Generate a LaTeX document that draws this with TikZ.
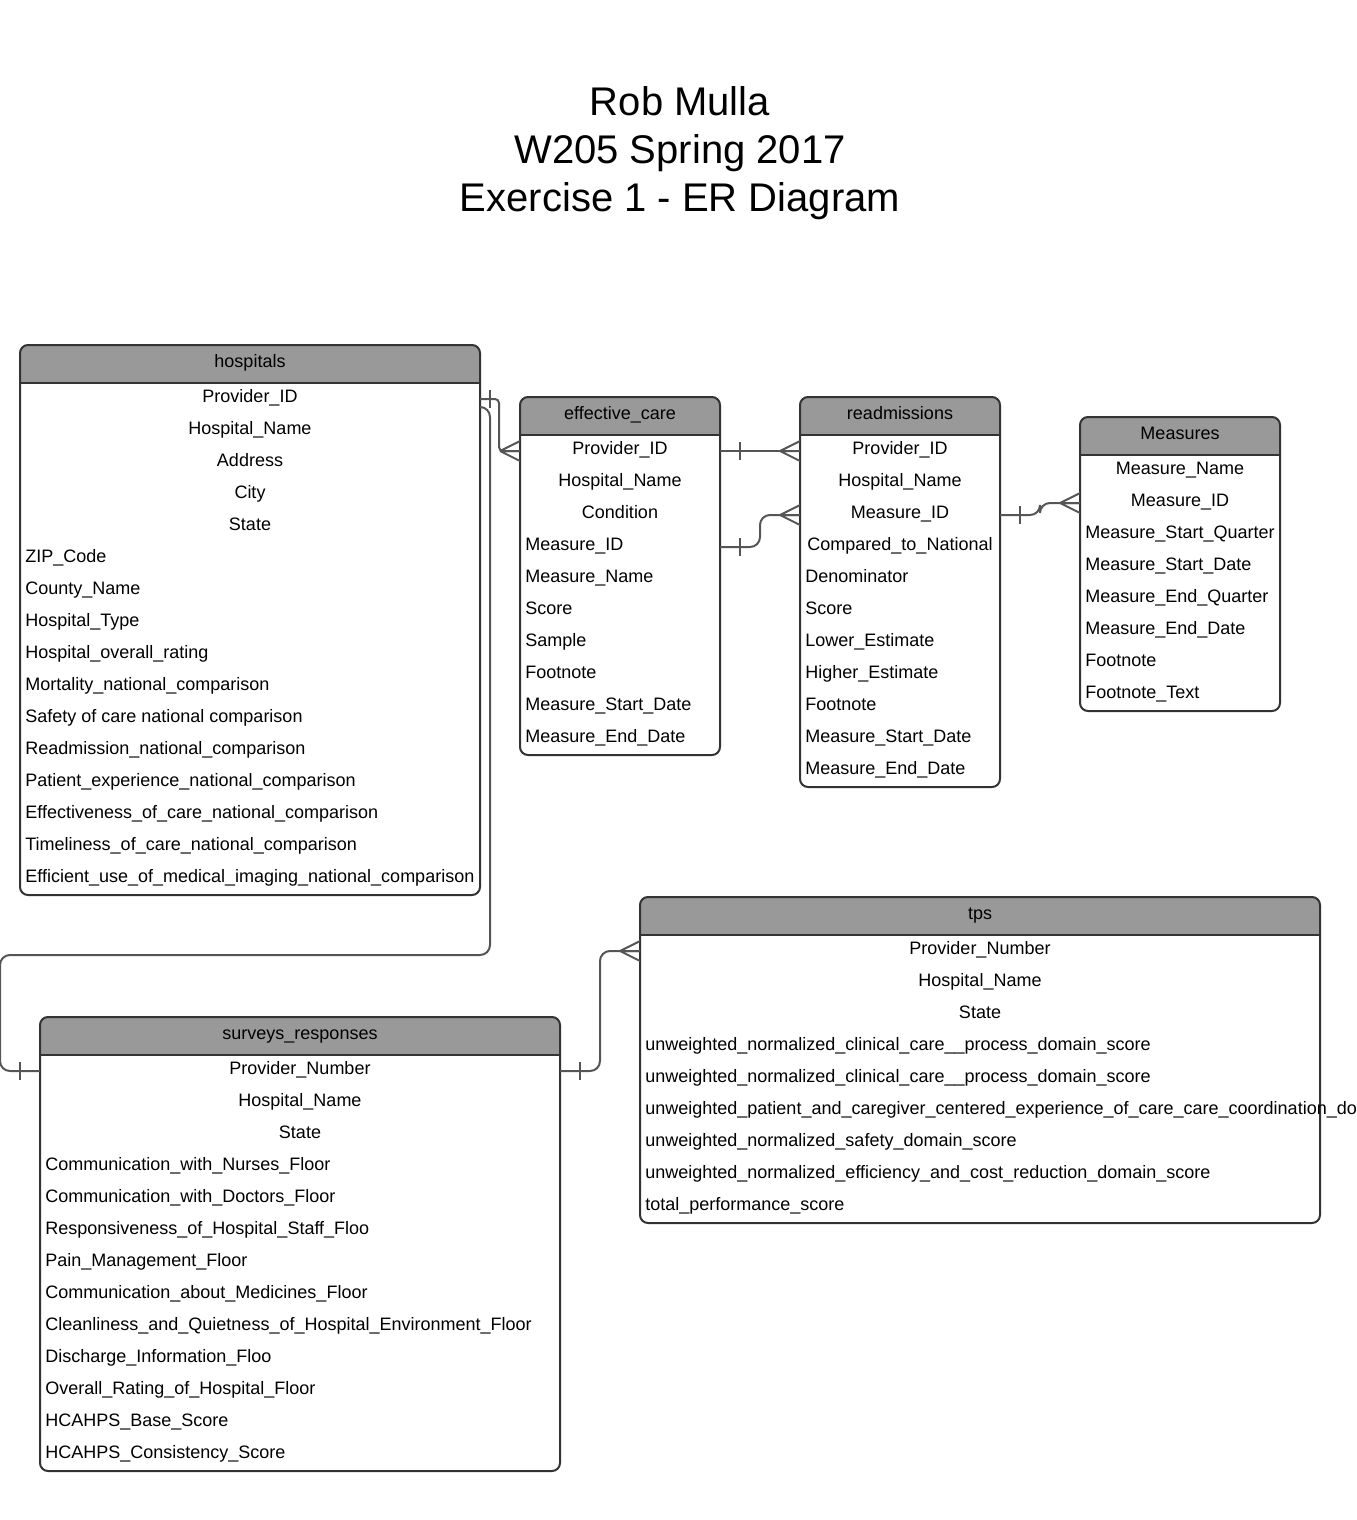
\documentclass[tikz,border=0pt]{standalone}
\usepackage{fontspec}
\setmainfont{Liberation Sans}
\usetikzlibrary{calc}
\definecolor{headgray}{HTML}{999999}
\definecolor{boxline}{HTML}{333333}
\definecolor{linkline}{HTML}{555555}

% #1 name, #2 left, #3 top, #4 width, #5 title, #6 centred rows, #7 rows, #8 fields
\newcommand{\ertable}[8]{%
  \pgfmathsetmacro\tbot{#3+38+32*#7}
  \fill[headgray] (#2,#3+38) [rounded corners=4] |- (#2+#4,#3) [sharp corners] -- (#2+#4,#3+38) -- cycle;
  \draw[boxline, line width=1pt] (#2,#3+38) -- (#2+#4,#3+38);
  \draw[tablebox] (#2,#3) rectangle (#2+#4,\tbot);
  \node[headtext] (#1) at (#2+#4/2,#3+22) {#5};
  \foreach \f [count=\i] in {#8} {
    \pgfmathsetmacro\rowc{#3+38+16+32*(\i-1)}
    \coordinate (#1-\i-w) at (#2,\rowc);
    \coordinate (#1-\i-e) at (#2+#4,\rowc);
    \ifnum\i>#6
      \node[fieldtext, anchor=base west] (#1-\i) at (#2+5,\rowc+3.5) {\f};
    \else
      \node[fieldtext, anchor=base] (#1-\i) at (#2+#4/2,\rowc+3.5) {\f};
    \fi
  }
}

\begin{document}
\begin{tikzpicture}[
    x=0.5pt, y=-0.5pt,
    tablebox/.style={draw=boxline, line width=1pt, rounded corners=4},
    headtext/.style={anchor=base, inner sep=0pt, font=\fontsize{9}{11}\selectfont},
    fieldtext/.style={inner sep=0pt, font=\fontsize{9}{11}\selectfont},
    link/.style={draw=linkline, line width=1pt, rounded corners=5},
    crowfoot/.pic={\draw[link, rounded corners=0] (-20,0) -- (0,-10) (-20,0) -- (0,10) (-20,0) -- (0,0);},
    onebar/.pic={\draw[link, rounded corners=0] (0,-9) -- (0,9);}
  ]
  \useasboundingbox (0,0) rectangle (1356,1520);

  \node[align=center, font=\fontsize{20}{24}\selectfont] (title) at (680,153)
    {Rob Mulla\\W205 Spring 2017\\Exercise 1 - ER Diagram};

  \ertable{hospitals}{20}{345}{460}{hospitals}{5}{16}{Provider\_ID,Hospital\_Name,Address,City,State,
    ZIP\_Code,County\_Name,Hospital\_Type,Hospital\_overall\_rating,Mortality\_national\_comparison,
    Safety of care national comparison,Readmission\_national\_comparison,Patient\_experience\_national\_comparison,
    Effectiveness\_of\_care\_national\_comparison,Timeliness\_of\_care\_national\_comparison,
    Efficient\_use\_of\_medical\_imaging\_national\_comparison}

  \ertable{care}{520}{397}{200}{effective\_care}{3}{10}{Provider\_ID,Hospital\_Name,Condition,
    Measure\_ID,Measure\_Name,Score,Sample,Footnote,Measure\_Start\_Date,Measure\_End\_Date}

  \ertable{readm}{800}{397}{200}{readmissions}{4}{11}{Provider\_ID,Hospital\_Name,Measure\_ID,
    Compared\_to\_National,Denominator,Score,Lower\_Estimate,Higher\_Estimate,Footnote,
    Measure\_Start\_Date,Measure\_End\_Date}

  \ertable{measures}{1080}{417}{200}{Measures}{3}{8}{Measure\_Name,Measure\_ID,Measure\_Start\_Quarter,
    Measure\_Start\_Date,Measure\_End\_Quarter,Measure\_End\_Date,Footnote,Footnote\_Text}

  \ertable{tps}{640}{897}{680}{tps}{3}{9}{Provider\_Number,Hospital\_Name,State,
    unweighted\_normalized\_clinical\_care\_\_process\_domain\_score,
    unweighted\_normalized\_clinical\_care\_\_process\_domain\_score,
    unweighted\_patient\_and\_caregiver\_centered\_experience\_of\_care\_care\_coordination\_do,
    unweighted\_normalized\_safety\_domain\_score,
    unweighted\_normalized\_efficiency\_and\_cost\_reduction\_domain\_score,
    total\_performance\_score}

  \ertable{surveys}{40}{1017}{520}{surveys\_responses}{3}{13}{Provider\_Number,Hospital\_Name,State,
    Communication\_with\_Nurses\_Floor,Communication\_with\_Doctors\_Floor,
    Responsiveness\_of\_Hospital\_Staff\_Floo,Pain\_Management\_Floor,
    Communication\_about\_Medicines\_Floor,Cleanliness\_and\_Quietness\_of\_Hospital\_Environment\_Floor,
    Discharge\_Information\_Floo,Overall\_Rating\_of\_Hospital\_Floor,HCAHPS\_Base\_Score,
    HCAHPS\_Consistency\_Score}

  % relationships
  \draw[link, rounded corners=2] (hospitals-1-e) -- ++(19,0) |- (care-1-w);
  \pic at ($(hospitals-1-e)+(10,0)$) {onebar};
  \pic at (care-1-w) {crowfoot};

  \draw[link] (care-1-e) -- (readm-1-w);
  \pic at ($(care-1-e)+(20,0)$) {onebar};
  \pic at (readm-1-w) {crowfoot};

  \draw[link] (care-4-e) -- ++(40,0) |- (readm-3-w);
  \pic at ($(care-4-e)+(20,0)$) {onebar};
  \pic at (readm-3-w) {crowfoot};

  \draw[link] (readm-3-e) -- ++(40,0) |- (measures-2-w);
  \pic at ($(readm-3-e)+(20,0)$) {onebar};
  \pic at (measures-2-w) {crowfoot};

  \coordinate (drop) at (490,955);
  \coordinate (turn) at (0,955);
  \draw[link] ($(hospitals-1-e)+(0,8)$) -| (drop) -- (turn) |- (surveys-1-w);
  \pic at ($(surveys-1-w)+(-20,0)$) {onebar};

  \draw[link] (surveys-1-e) -- ++(40,0) |- (tps-1-w);
  \pic at ($(surveys-1-e)+(20,0)$) {onebar};
  \pic at (tps-1-w) {crowfoot};
\end{tikzpicture}
\end{document}
